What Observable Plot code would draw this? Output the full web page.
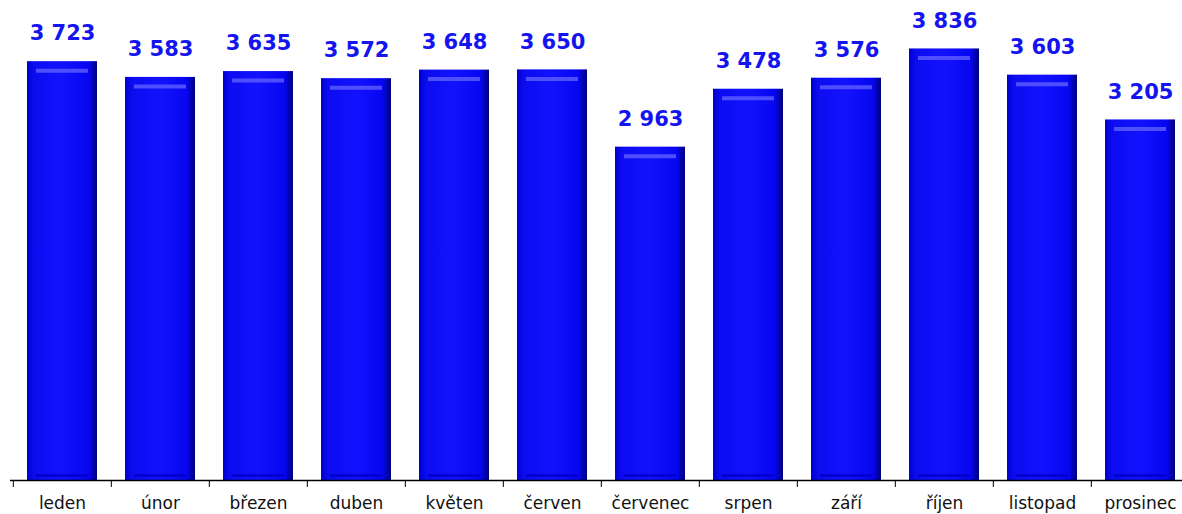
<!DOCTYPE html>
<html>
<head>
<meta charset="utf-8">
<script src="https://cdn.jsdelivr.net/npm/d3@7"></script>
<script src="https://cdn.jsdelivr.net/npm/@observablehq/plot@0.6"></script>
<style>
  html, body { margin: 0; padding: 0; background: #fff; }
</style>
</head>
<body>
<div id="chart"></div>
<script>
const months = ["leden", "únor", "březen", "duben", "květen", "červen", "červenec", "srpen", "září", "říjen", "listopad", "prosinec"];
const values = [3723, 3583, 3635, 3572, 3648, 3650, 2963, 3478, 3576, 3836, 3603, 3205];

const data = months.map((m, i) => ({month: m, value: values[i]}));
const fmt = d3.formatLocale({thousands: " ", grouping: [3], decimal: ","}).format(",d");

const W = 1182, H = 514;
const xRange = [10.5, 1191];
const bw = (xRange[1] - xRange[0]) / months.length;

const chart = Plot.plot({
  width: W,
  height: H,
  marginLeft: 10,
  marginRight: 0,
  marginTop: 30,
  marginBottom: 34,
  style: {fontFamily: "DejaVu Sans, Verdana, sans-serif", background: "#fff"},
  x: {domain: months, range: xRange, paddingInner: 0.284, paddingOuter: 0.142, label: null},
  y: {domain: [0, 4000], axis: null},
  marks: [
    Plot.barY(data, {x: "month", y: "value", fill: "url(#barGrad)", style: "filter:url(#shadow)"}),
    Plot.tickY(data, {x: "month", y: "value", dy: 9, insetLeft: 9, insetRight: 9, stroke: "#5a5aff", strokeWidth: 4, strokeOpacity: 0.85}),
    Plot.tickY(data, {x: "month", y: 0, dy: -5, insetLeft: 9, insetRight: 9, stroke: "#0000c0", strokeWidth: 3, strokeOpacity: 0.7}),
    Plot.text(data, {x: "month", y: "value", text: d => fmt(d.value), dy: -28, fill: "#1414f0", fontSize: 21, fontWeight: "bold"}),
    Plot.ruleY([0], {stroke: "#000", strokeWidth: 1.5}),
    Plot.axisX({tickSize: 0, tickPadding: 16, fontSize: 17, fill: "#111"}),
    Plot.axisX({tickSize: 7, text: null, dx: -bw / 2, stroke: "#000"})
  ]
});

const svg = d3.select(chart);
const defs = svg.insert("defs", ":first-child");
const g = defs.append("linearGradient").attr("id", "barGrad").attr("x1", "0").attr("x2", "1").attr("y1", "0").attr("y2", "0");
g.append("stop").attr("offset", "0").attr("stop-color", "#0000d0");
g.append("stop").attr("offset", "0.1").attr("stop-color", "#0c0cf0");
g.append("stop").attr("offset", "0.5").attr("stop-color", "#1212ff");
g.append("stop").attr("offset", "0.88").attr("stop-color", "#0606f0");
g.append("stop").attr("offset", "1").attr("stop-color", "#00007a");
const f = defs.append("filter").attr("id", "shadow").attr("x", "-20%").attr("y", "-10%").attr("width", "150%").attr("height", "130%");
f.append("feDropShadow").attr("dx", 5).attr("dy", 3).attr("stdDeviation", 4).attr("flood-color", "#000").attr("flood-opacity", 0.35);

document.getElementById("chart").appendChild(chart);
</script>
</body>
</html>
